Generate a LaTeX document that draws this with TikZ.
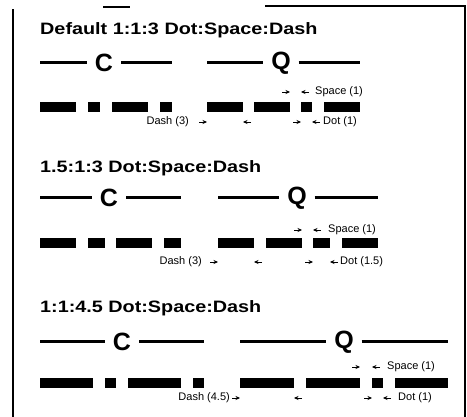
\documentclass[tikz,border=0pt]{standalone}
\usepackage{fontspec}
\setmainfont{Liberation Sans}
\newfontfamily\widesans[FakeStretch=1.2]{Liberation Sans}
\usetikzlibrary{arrows.meta,calc}

\tikzset{
    heading/.style={anchor=base west, inner sep=0, font=\widesans\bfseries\fontsize{16.5}{18}\selectfont},
    letter/.style={inner sep=1pt, outer sep=7pt, font=\bfseries\fontsize{25}{25}\selectfont},
    code/.style={line width=3pt},
    bar/.style={fill, draw=none, anchor=west, inner sep=0, outer sep=0, minimum height=10pt, minimum width=#1},
    note/.style={inner sep=0, font=\fontsize{11}{12}\selectfont},
    tick/.style={-{Stealth[length=4.5pt,width=4pt]}, line width=0.6pt},
    frame/.style={line width=1.2pt}
}

\begin{document}
\begin{tikzpicture}[x=1pt,y=-1pt]
                \useasboundingbox (0,0) rectangle (467,417);
                \draw[frame] (13,417) -- (13,9);
                \draw[frame] (103,7) -- (130,7);
                \draw[frame] (265,6) -- (465,6) -- (465,417);

                \node[heading] (t1) at (40,35) {Default 1:1:3 Dot:Space:Dash};
                \node[bar=36pt] (c1a) at (40,107) {};
                \node[bar=12pt] (c1b) at (88,107) {};
                \node[bar=36pt] (c1c) at (112,107) {};
                \node[bar=12pt] (c1d) at (160,107) {};
                \node[bar=36pt] (q1a) at (207,107) {};
                \node[bar=36pt] (q1b) at (254,107) {};
                \node[bar=11pt] (q1c) at (301,107) {};
                \node[bar=36pt] (q1d) at (324,107) {};
                \node[letter] (c1) at (104,63) {C};
                \node[letter] (q1) at (281,63) {Q};
                \draw[code] (c1a.west |- c1) -- (c1);
                \draw[code] (c1) -- (c1d.east |- c1);
                \draw[code] (q1a.west |- q1) -- (q1);
                \draw[code] (q1) -- (q1d.east |- q1);
                \node[note, anchor=west] (sp1) at (315,92) {Space (1)};
                \node[note, anchor=east] (dh1) at (189,122) {Dash (3)};
                \node[note, anchor=west] (dt1) at (323,122) {Dot (1)};
                \draw[tick] ($(q1b.east |- sp1)+(-8,0)$) -- (q1b.east |- sp1);
                \draw[tick] ($(q1c.west |- sp1)+(8,0)$) -- (q1c.west |- sp1);
                \draw[tick] ($(q1a.west |- dh1)+(-8,0)$) -- (q1a.west |- dh1);
                \draw[tick] ($(q1a.east |- dh1)+(8,0)$) -- (q1a.east |- dh1);
                \draw[tick] ($(q1c.west |- dt1)+(-8,0)$) -- (q1c.west |- dt1);
                \draw[tick] ($(q1c.east |- dt1)+(8,0)$) -- (q1c.east |- dt1);

                \node[heading] (t2) at (40,173) {1.5:1:3 Dot:Space:Dash};
                \node[bar=36pt] (c2a) at (40,243) {};
                \node[bar=17pt] (c2b) at (88,243) {};
                \node[bar=36pt] (c2c) at (116,243) {};
                \node[bar=17pt] (c2d) at (164,243) {};
                \node[bar=36pt] (q2a) at (218,243) {};
                \node[bar=36pt] (q2b) at (266,243) {};
                \node[bar=17pt] (q2c) at (313,243) {};
                \node[bar=36pt] (q2d) at (342,243) {};
                \node[letter] (c2) at (109,198) {C};
                \node[letter] (q2) at (297,198) {Q};
                \draw[code] (c2a.west |- c2) -- (c2);
                \draw[code] (c2) -- (c2d.east |- c2);
                \draw[code] (q2a.west |- q2) -- (q2);
                \draw[code] (q2) -- (q2d.east |- q2);
                \node[note, anchor=west] (sp2) at (328,230) {Space (1)};
                \node[note, anchor=east] (dh2) at (202,262) {Dash (3)};
                \node[note, anchor=west] (dt2) at (340,262) {Dot (1.5)};
                \draw[tick] ($(q2b.east |- sp2)+(-8,0)$) -- (q2b.east |- sp2);
                \draw[tick] ($(q2c.west |- sp2)+(8,0)$) -- (q2c.west |- sp2);
                \draw[tick] ($(q2a.west |- dh2)+(-8,0)$) -- (q2a.west |- dh2);
                \draw[tick] ($(q2a.east |- dh2)+(8,0)$) -- (q2a.east |- dh2);
                \draw[tick] ($(q2c.west |- dt2)+(-8,0)$) -- (q2c.west |- dt2);
                \draw[tick] ($(q2c.east |- dt2)+(8,0)$) -- (q2c.east |- dt2);

                \node[heading] (t3) at (40,313) {1:1:4.5 Dot:Space:Dash};
                \node[bar=53pt] (c3a) at (40,383) {};
                \node[bar=11pt] (c3b) at (105,383) {};
                \node[bar=53pt] (c3c) at (128,383) {};
                \node[bar=11pt] (c3d) at (193,383) {};
                \node[bar=54pt] (q3a) at (240,383) {};
                \node[bar=54pt] (q3b) at (306,383) {};
                \node[bar=11pt] (q3c) at (372,383) {};
                \node[bar=53pt] (q3d) at (395,383) {};
                \node[letter] (c3) at (122,342) {C};
                \node[letter] (q3) at (344,342) {Q};
                \draw[code] (c3a.west |- c3) -- (c3);
                \draw[code] (c3) -- (c3d.east |- c3);
                \draw[code] (q3a.west |- q3) -- (q3);
                \draw[code] (q3) -- (q3d.east |- q3);
                \node[note, anchor=west] (sp3) at (387,367) {Space (1)};
                \node[note, anchor=east] (dh3) at (230,398) {Dash (4.5)};
                \node[note, anchor=west] (dt3) at (398,398) {Dot (1)};
                \draw[tick] ($(q3b.east |- sp3)+(-8,0)$) -- (q3b.east |- sp3);
                \draw[tick] ($(q3c.west |- sp3)+(8,0)$) -- (q3c.west |- sp3);
                \draw[tick] ($(q3a.west |- dh3)+(-8,0)$) -- (q3a.west |- dh3);
                \draw[tick] ($(q3a.east |- dh3)+(8,0)$) -- (q3a.east |- dh3);
                \draw[tick] ($(q3c.west |- dt3)+(-8,0)$) -- (q3c.west |- dt3);
                \draw[tick] ($(q3c.east |- dt3)+(8,0)$) -- (q3c.east |- dt3);
            \end{tikzpicture}
\end{document}
